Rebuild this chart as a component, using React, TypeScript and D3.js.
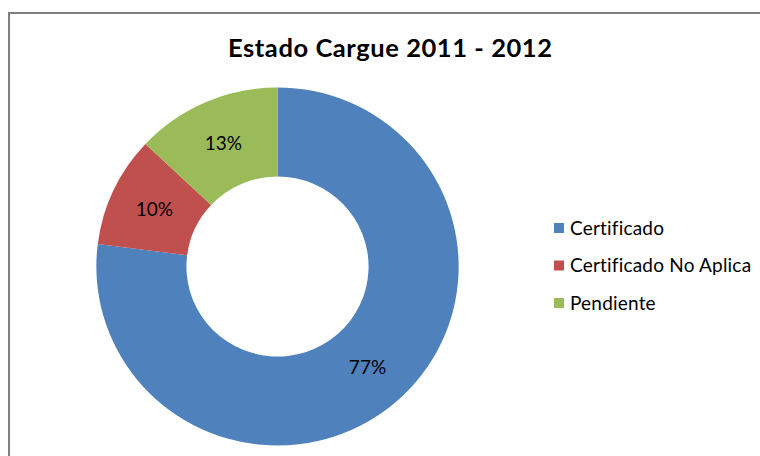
import React from "react";
import * as d3 from "d3";

const categories = ["Certificado", "Certificado No Aplica", "Pendiente"];
const values = [77, 10, 13];
const colors = ["#4F81BD", "#C0504D", "#9BBB59"];
const title = "Estado Cargue 2011 - 2012";

const FONT = "Lato, 'Open Sans', sans-serif";

export default function App() {
  const W = 760, H = 456;
  const cx = 277.5, cy = 266.5;
  const R = 179, r = 90;
  const sx = 1.012;
  const pie = d3.pie<number>().sort(null).value((d) => d);
  const arcs = pie(values);
  const arc = d3.arc<d3.PieArcDatum<number>>().innerRadius(r).outerRadius(R);
  const labelArc = d3.arc<d3.PieArcDatum<number>>().innerRadius((r + R) / 2).outerRadius((r + R) / 2);
  const total = d3.sum(values);

  const legendX = 554, legendY0 = 228, legendStep = 37.5;

  return (
    <svg width={W} height={H} style={{ position: "absolute", left: 0, top: 0, background: "#fff" }}>
      <rect x={9} y={13} width={800} height={500} fill="#fff" stroke="#808080" strokeWidth={2} />
      <text x={390} y={57} textAnchor="middle" fontFamily={FONT} fontWeight="bold" fontSize={25.5}
        textLength={324} lengthAdjust="spacing" fill="#000">
        {title}
      </text>
      <g transform={`translate(${cx},${cy}) scale(${sx},1)`}>
        {arcs.map((a, i) => (
          <path key={i} d={arc(a) || ""} fill={colors[i]} />
        ))}
      </g>
      <g transform={`translate(${cx},${cy})`}>
        {arcs.map((a, i) => {
          const [lx, ly] = labelArc.centroid(a);
          return (
            <text key={i} x={lx * sx} y={ly} dy="0.36em" textAnchor="middle" fontFamily={FONT} fontSize={19} fill="#000">
              {`${Math.round((a.data / total) * 100)}%`}
            </text>
          );
        })}
      </g>
      <g>
        {categories.map((c, i) => (
          <g key={c} transform={`translate(${legendX},${legendY0 + i * legendStep})`}>
            <rect x={0} y={-5} width={10} height={10} fill={colors[i]} />
            <text x={16} y={0} dy="0.36em" fontFamily={FONT} fontSize={19} letterSpacing={0.2} fill="#000">
              {c}
            </text>
          </g>
        ))}
      </g>
    </svg>
  );
}
